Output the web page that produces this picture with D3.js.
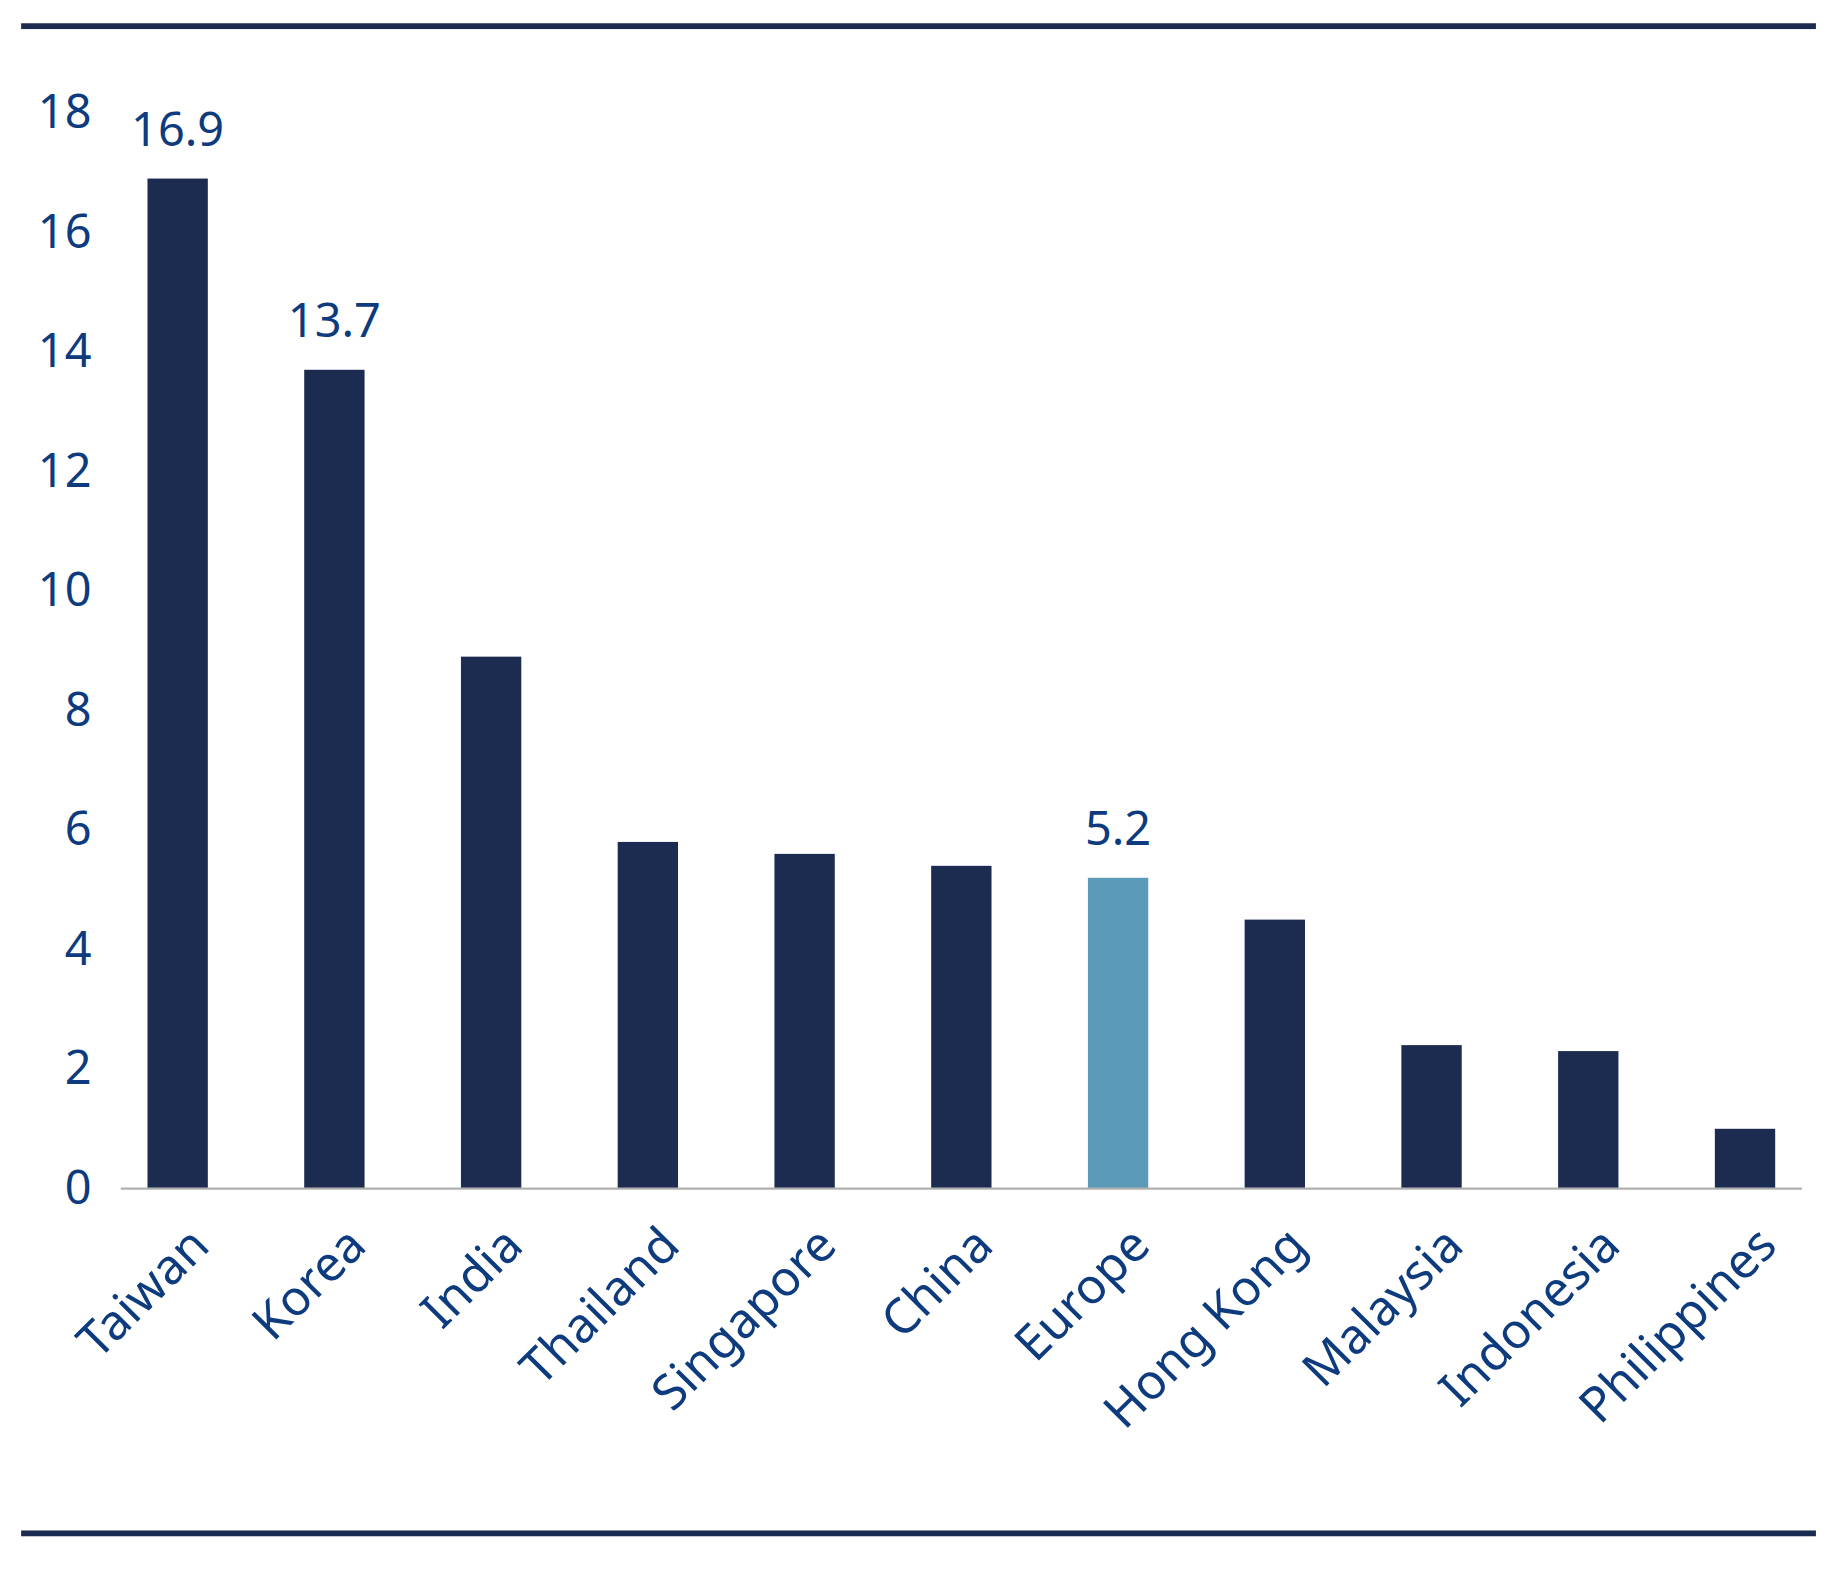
<!DOCTYPE html>
<html><head><meta charset="utf-8">
<script src="https://cdn.jsdelivr.net/npm/d3@7"></script>
<style>body{margin:0;background:#fff}</style></head>
<body><svg id="c"></svg>
<script>
const categories=["Taiwan","Korea","India","Thailand","Singapore","China","Europe","Hong Kong","Malaysia","Indonesia","Philippines"];
const values=[16.9,13.7,8.9,5.8,5.6,5.4,5.2,4.5,2.4,2.3,1.0];
const labelled=["Taiwan","Korea","Europe"];
const highlight="Europe";
const yTicks=[0,2,4,6,8,10,12,14,16,18];

const svg=d3.select("#c").attr("width",1830).attr("height",1570)
  .attr("viewBox","0 0 1560 1350").attr("preserveAspectRatio","none");
const txt="#0d3b7d", dark="#1c2c50", light="#5b9bb9";
const font="'Noto Sans', sans-serif";
svg.append("rect").attr("x",18).attr("y",20).attr("width",1530).attr("height",5).attr("fill",dark);
svg.append("rect").attr("x",18).attr("y",1316).attr("width",1530).attr("height",5).attr("fill",dark);

const x=d3.scaleBand().domain(categories).range([99,1540]).paddingInner(0.615).paddingOuter(0.2);
const y=d3.scaleLinear().domain([0,18]).range([1022,97]);

svg.selectAll("rect.bar").data(categories).enter().append("rect").attr("class","bar")
  .attr("x",d=>x(d)).attr("width",x.bandwidth())
  .attr("y",(d,i)=>y(values[i])).attr("height",(d,i)=>y(0)-y(values[i]))
  .attr("fill",d=>d===highlight?light:dark);

svg.append("line").attr("x1",103).attr("x2",1536).attr("y1",y(0)).attr("y2",y(0))
  .attr("stroke","#b0b0b0").attr("stroke-width",2);

const ya=svg.append("g").attr("transform","translate(78,0)")
  .call(d3.axisLeft(y).tickValues(yTicks).tickSize(0).tickPadding(0));
ya.select(".domain").remove();
ya.selectAll("text").attr("font-family",font).attr("font-size",40).attr("fill",txt);

categories.forEach((c,i)=>{
  const cx=x(c)+x.bandwidth()/2;
  svg.append("text").attr("transform",`translate(${cx+4},${1048}) rotate(-45)`)
    .attr("text-anchor","end").attr("dominant-baseline","hanging")
    .attr("font-family",font).attr("font-size",42).attr("fill",txt).text(c);
  if(labelled.includes(c)){
    svg.append("text").attr("x",cx).attr("y",y(values[i])-28).attr("text-anchor","middle")
      .attr("font-family",font).attr("font-size",40).attr("fill",txt).text(values[i].toFixed(1));
  }
});
</script></body></html>
